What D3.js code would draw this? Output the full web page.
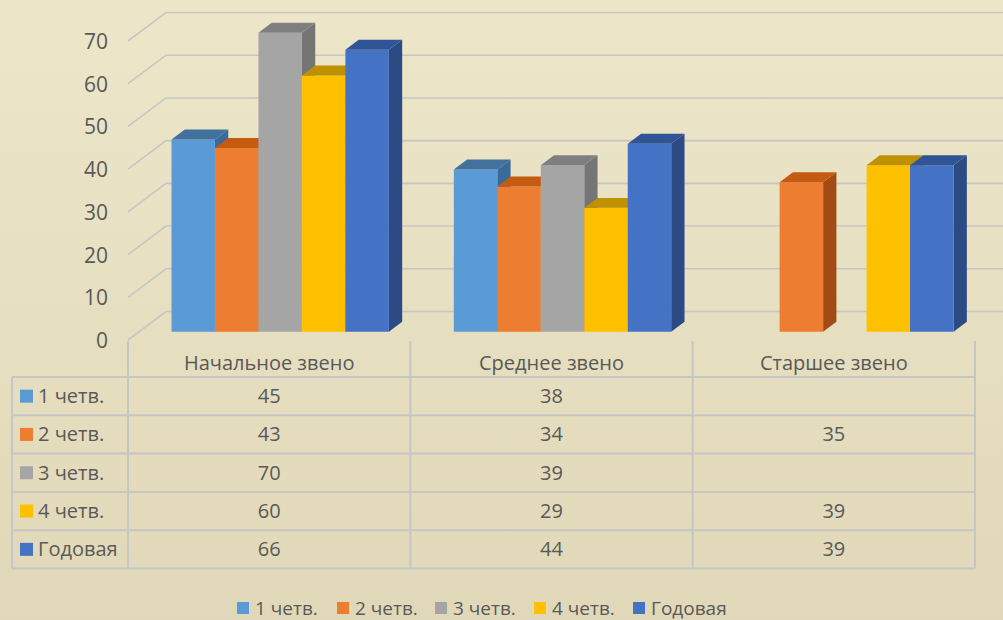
<!DOCTYPE html>
<html>
<head>
<meta charset="utf-8">
<script src="https://cdn.jsdelivr.net/npm/d3@7"></script>
<style>
  html, body { margin: 0; padding: 0; }
  body { width: 1003px; height: 620px; overflow: hidden; }
  text { font-family: "Open Sans", "DejaVu Sans", sans-serif; fill: #595959; }
</style>
</head>
<body>
<div id="chart"></div>
<script>
// Data
const categories = ['Начальное звено', 'Среднее звено', 'Старшее звено'];
const seriesNames = ['1 четв.', '2 четв.', '3 четв.', '4 четв.', 'Годовая'];
const q1 = [45, 38, null];
const q2 = [43, 34, 35];
const q3 = [70, 39, null];
const q4 = [60, 29, 39];
const year = [66, 44, 39];
const seriesValues = [q1, q2, q3, q4, year];
const yTicks = [0, 10, 20, 30, 40, 50, 60, 70];

// Colours: front, top, side
const colors = [
  { front: '#5b9bd5', top: '#41719c', side: '#3a6a99' },
  { front: '#ed7d31', top: '#c55a11', side: '#a24c14' },
  { front: '#a5a5a5', top: '#7f7f7f', side: '#757575' },
  { front: '#ffc000', top: '#bf9000', side: '#b08600' },
  { front: '#4472c4', top: '#2f5597', side: '#2c4a84' }
];

const width = 1003;
const height = 620;

// 3D projection settings
const depthX = 38, depthY = 28.5;
const barFront = 0.29, barBack = 0.64;

const svg = d3.select('#chart')
  .append('svg')
  .attr('width', width)
  .attr('height', height);

// Background gradient
const grad = svg.append('defs').append('linearGradient')
  .attr('id', 'bg').attr('x1', 0).attr('y1', 0).attr('x2', 0).attr('y2', 1);
grad.append('stop').attr('offset', '0%').attr('stop-color', '#ede6c9');
grad.append('stop').attr('offset', '100%').attr('stop-color', '#e0d8b8');
svg.append('rect').attr('width', width).attr('height', height).attr('fill', 'url(#bg)');

// Scales
const x = d3.scaleBand()
  .domain(categories)
  .range([128, 975])
  .paddingInner(0)
  .paddingOuter(0);

const xSub = d3.scaleBand()
  .domain(seriesNames)
  .range([0, x.bandwidth() * 0.77]);

const y = d3.scaleLinear()
  .domain([0, 70])
  .range([340, 41]);

const proj = (px, v, d) => [px + depthX * d, y(v) - depthY * d];

// Gridlines: left wall diagonals + back wall horizontals
const grid = svg.append('g')
  .attr('stroke', '#c6c6c6')
  .attr('stroke-width', 1.6)
  .attr('fill', 'none');

yTicks.forEach(t => {
  const a = proj(128, t, 0);
  const b = proj(128, t, 1);
  grid.append('path')
    .attr('d', `M${a[0]},${a[1]}L${b[0]},${b[1]}L${width},${b[1]}`);
});

// Y axis labels
svg.append('g')
  .selectAll('text')
  .data(yTicks)
  .enter()
  .append('text')
  .attr('x', 108)
  .attr('y', d => y(d) + 8)
  .attr('text-anchor', 'end')
  .attr('font-size', 21)
  .text(d => d);

// Bars
const bars = svg.append('g');
categories.forEach((cat, ci) => {
  const groupStart = x(cat) + (x.bandwidth() - xSub.range()[1]) / 2;
  seriesNames.forEach((s, si) => {
    const v = seriesValues[si][ci];
    if (v == null) return;
    const x0 = groupStart + xSub(s);
    const x1 = x0 + xSub.bandwidth();
    const pts = arr => arr.map(p => p.join(',')).join(' ');
    const c = colors[si];
    // side
    bars.append('polygon')
      .attr('points', pts([proj(x1, 0, barFront), proj(x1, 0, barBack), proj(x1, v, barBack), proj(x1, v, barFront)]))
      .attr('fill', c.side);
    // front
    bars.append('polygon')
      .attr('points', pts([proj(x0, 0, barFront), proj(x1, 0, barFront), proj(x1, v, barFront), proj(x0, v, barFront)]))
      .attr('fill', c.front);
    // top
    bars.append('polygon')
      .attr('points', pts([proj(x0, v, barFront), proj(x1, v, barFront), proj(x1, v, barBack), proj(x0, v, barBack)]))
      .attr('fill', c.top);
  });
});

// Data table
const rowTop = 377;
const rowH = 38.3;
const table = svg.append('g')
  .attr('stroke', '#c6c6c6')
  .attr('stroke-width', 2)
  .attr('fill', 'none');

// column separators (header included)
x.domain().forEach(cat => {
  table.append('line')
    .attr('x1', x(cat)).attr('x2', x(cat))
    .attr('y1', 341).attr('y2', rowTop + rowH * seriesNames.length);
});
table.append('line')
  .attr('x1', x.range()[1]).attr('x2', x.range()[1])
  .attr('y1', 341).attr('y2', rowTop + rowH * seriesNames.length);
table.append('line')
  .attr('x1', 12).attr('x2', 12)
  .attr('y1', rowTop).attr('y2', rowTop + rowH * seriesNames.length);
d3.range(seriesNames.length + 1).forEach(i => {
  table.append('line')
    .attr('x1', 12).attr('x2', x.range()[1])
    .attr('y1', rowTop + rowH * i).attr('y2', rowTop + rowH * i);
});

// header labels
svg.append('g')
  .selectAll('text')
  .data(categories)
  .enter()
  .append('text')
  .attr('x', d => x(d) + x.bandwidth() / 2)
  .attr('y', 370)
  .attr('text-anchor', 'middle')
  .attr('font-size', 20)
  .text(d => d);

// row labels with colour keys
seriesNames.forEach((s, si) => {
  const cy = rowTop + rowH * si + rowH / 2;
  svg.append('rect')
    .attr('x', 20).attr('y', cy - 6.5)
    .attr('width', 13).attr('height', 13)
    .attr('fill', colors[si].front);
  svg.append('text')
    .attr('x', 38).attr('y', cy + 7)
    .attr('font-size', 20)
    .text(s);
  categories.forEach((cat, ci) => {
    const v = seriesValues[si][ci];
    if (v == null) return;
    svg.append('text')
      .attr('x', x(cat) + x.bandwidth() / 2)
      .attr('y', cy + 7)
      .attr('text-anchor', 'middle')
      .attr('font-size', 20)
      .text(v);
  });
});

// Legend
const legendX = [237, 337, 435, 534, 633];
const legend = svg.append('g');
seriesNames.forEach((s, si) => {
  legend.append('rect')
    .attr('x', legendX[si]).attr('y', 602)
    .attr('width', 12).attr('height', 12)
    .attr('fill', colors[si].front);
  legend.append('text')
    .attr('x', legendX[si] + 18).attr('y', 615)
    .attr('font-size', 19)
    .text(s);
});
</script>
</body>
</html>
